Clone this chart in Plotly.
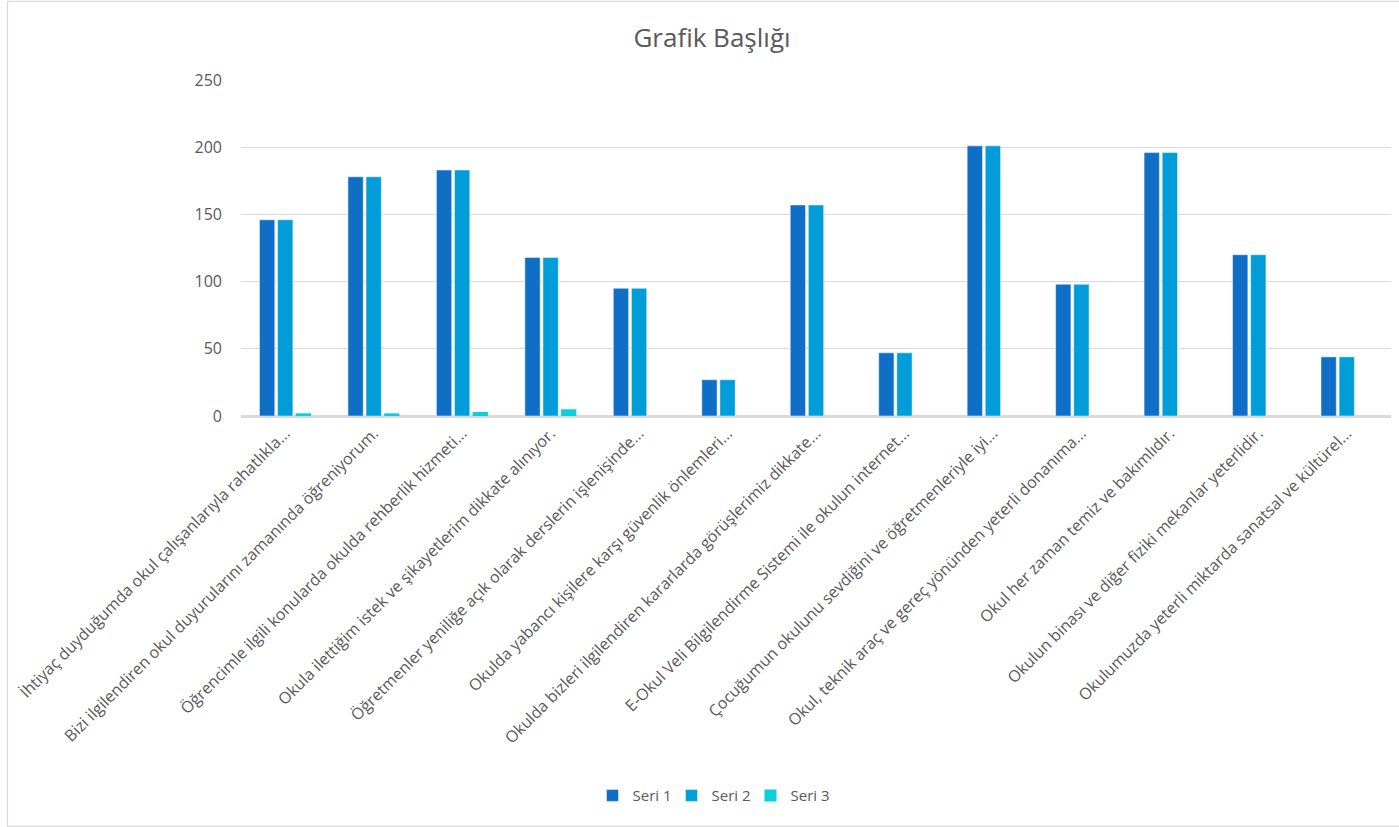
import plotly.graph_objects as go

categories = [
    "İhtiyaç duyduğumda okul çalışanlarıyla rahatlıkla...",
    "Bizi ilgilendiren okul duyurularını zamanında öğreniyorum.",
    "Öğrencimle ilgili konularda okulda rehberlik hizmeti...",
    "Okula ilettiğim istek ve şikayetlerim dikkate alınıyor.",
    "Öğretmenler yeniliğe açık olarak derslerin işlenişinde...",
    "Okulda yabancı kişilere karşı güvenlik önlemleri...",
    "Okulda bizleri ilgilendiren kararlarda görüşlerimiz dikkate...",
    "E-Okul Veli Bilgilendirme Sistemi ile okulun internet...",
    "Çocuğumun okulunu sevdiğini ve öğretmenleriyle iyi...",
    "Okul, teknik araç ve gereç yönünden yeterli donanıma...",
    "Okul her zaman temiz ve bakımlıdır.",
    "Okulun binası ve diğer fiziki mekanlar yeterlidir.",
    "Okulumuzda yeterli miktarda sanatsal ve kültürel...",
]
seri1 = [146, 178, 183, 118, 95, 27, 157, 47, 201, 98, 196, 120, 44]
seri2 = [146, 178, 183, 118, 95, 27, 157, 47, 201, 98, 196, 120, 44]
seri3 = [2, 2, 3, 5, 0, 0, 0, 0, 0, 0, 0, 0, 0]
series_names = ["Seri 1", "Seri 2", "Seri 3"]
colors = ["#0F6FC6", "#009DD9", "#0BD0D9"]

W, H = 1399, 827
# plot area in window coords
PL, PR, PT, PB = 241, 1391, 80, 415.7
L, T = PL, PT
R = W - PR
B = H - PB
FONT = "Open Sans"
GRAY = "#595959"

fig = go.Figure()
for i, (name, vals, col) in enumerate(zip(series_names, [seri1, seri2, seri3], colors)):
    fig.add_trace(go.Bar(
        x=categories, y=vals, name=name,
        marker=dict(color=col,
                    line=dict(color="rgba(255,255,255,0.6)", width=0.8 if i < 2 else 0)),
    ))

plot_h = PB - PT
plot_w = PR - PL


def px_to_xpaper(x):
    return (x - PL) / plot_w


def py_to_ypaper(y):
    return (PB - y) / plot_h


fig.update_layout(
    width=W, height=H,
    margin=dict(l=L, r=R, t=T, b=B, autoexpand=False),
    paper_bgcolor="white", plot_bgcolor="white",
    barmode="group", bargap=0.386, bargroupgap=0.155,
    font=dict(family=FONT, color=GRAY, size=14),
    title=dict(text="Grafik Başlığı", x=712 / W, xanchor="center",
               y=1 - 38 / H, yanchor="middle",
               font=dict(family=FONT, size=26, color=GRAY)),
    xaxis=dict(tickangle=-45, showgrid=False, showline=True, linecolor="#D9D9D9",
               linewidth=1.5, ticks="", tickfont=dict(size=16, color=GRAY),
               automargin=False, fixedrange=True),
    yaxis=dict(range=[0, 250], dtick=50, showgrid=True, gridcolor="#D9D9D9",
               gridwidth=1, zeroline=True, zerolinecolor="#D9D9D9", zerolinewidth=1.5,
               ticks="", ticklabelstandoff=18, tickfont=dict(size=16, color=GRAY),
               automargin=False, fixedrange=True),
    legend=dict(orientation="h", x=px_to_xpaper(711), xanchor="center",
                y=py_to_ypaper(795), yanchor="middle",
                font=dict(size=15, color=GRAY), itemwidth=30, entrywidth=34,
                traceorder="normal"),
    showlegend=True,
)

# outer chart border
fig.add_shape(type="rect", xref="paper", yref="paper",
              x0=px_to_xpaper(7.5), x1=px_to_xpaper(1420),
              y0=py_to_ypaper(825.5), y1=py_to_ypaper(1.5),
              line=dict(color="#D9D9D9", width=1.2), fillcolor="rgba(0,0,0,0)", layer="below")

fig.write_html("out.html", config={"displayModeBar": False},
               post_script="document.body.style.margin='0';document.body.style.overflow='hidden';")
